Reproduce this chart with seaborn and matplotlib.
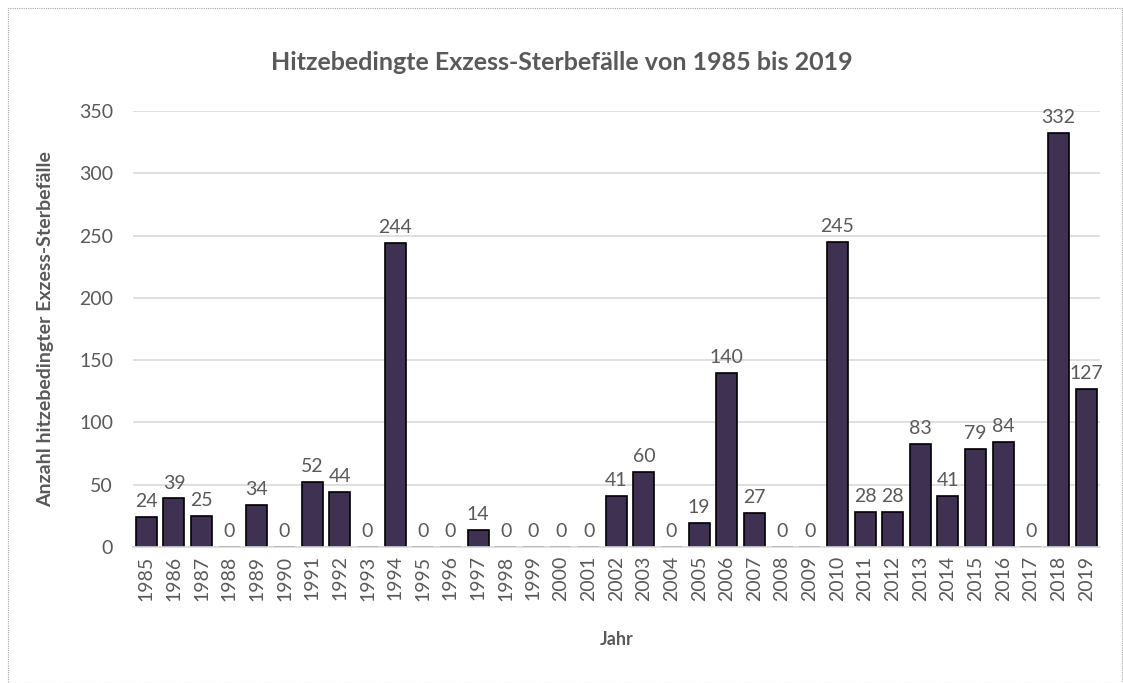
import matplotlib
matplotlib.use("Agg")
import matplotlib.pyplot as plt
import seaborn as sns
import pandas as pd
from matplotlib.patches import Rectangle

years = [str(y) for y in range(1985, 2020)]
deaths = [24, 39, 25, 0, 34, 0, 52, 44, 0, 244, 0, 0, 14, 0, 0, 0, 0, 41, 60, 0,
          19, 140, 27, 0, 0, 245, 28, 28, 83, 41, 79, 84, 0, 332, 127]

df = pd.DataFrame({"Jahr": years, "Wert": deaths})

sns.set_theme(style="white")
plt.rcParams['font.family'] = ['Lato', 'DejaVu Sans']
gray = "#595959"

fig = plt.figure(figsize=(11.23, 6.83), dpi=100)
ax = fig.add_axes([0.118, 0.199, 0.8615, 0.6385])

sns.barplot(data=df, x="Jahr", y="Wert", color="#3F3151", edgecolor="black",
            linewidth=1.2, width=0.76, saturation=1, ax=ax)

ax.set_ylim(0, 350)
ax.set_yticks(range(0, 351, 50))
ax.yaxis.grid(True, color="#D9D9D9", linewidth=1.2)
ax.set_axisbelow(True)
for s in ["top", "right", "left"]:
    ax.spines[s].set_visible(False)
ax.spines["bottom"].set_color("#D9D9D9")
ax.spines["bottom"].set_linewidth(1.2)
ax.tick_params(axis="both", length=0, labelsize=14, colors=gray, pad=6)
ax.tick_params(axis="y", pad=14)
ax.set_xticks(range(len(years)))
ax.set_xticklabels(years, rotation=90)

for i, v in enumerate(deaths):
    ax.annotate(str(v), (i, v), xytext=(0, 5), textcoords="offset points",
                ha="center", va="bottom", fontsize=14, color=gray)

ax.set_xlabel("Jahr", fontsize=13, fontweight="bold", color=gray, labelpad=22)
ax.set_ylabel("Anzahl hitzebedingter Exzess-Sterbefälle", fontsize=14,
              fontweight="bold", color=gray, labelpad=18)
fig.suptitle("Hitzebedingte Exzess-Sterbefälle von 1985 bis 2019", x=0.5, y=0.925,
             fontsize=18, fontweight="bold", color=gray)

fig.patches.append(Rectangle((0.007, 0.0), 0.992, 0.988, transform=fig.transFigure,
                             fill=False, edgecolor="#A6A6A6", linestyle=(0, (1, 1)),
                             linewidth=0.8))

fig.savefig("out.png", dpi=100)
